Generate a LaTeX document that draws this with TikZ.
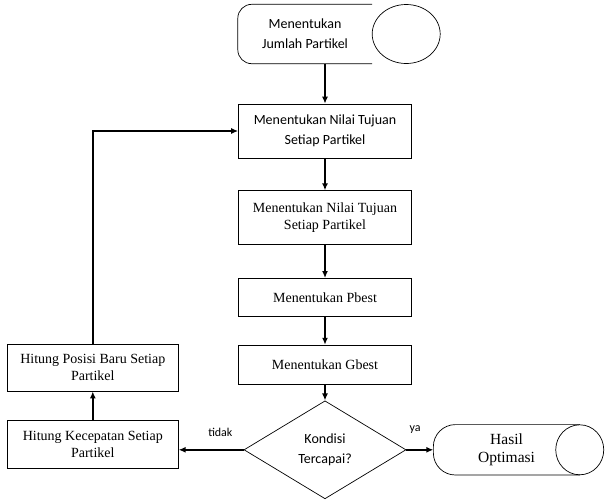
\documentclass[tikz,border=0pt]{standalone}
\usepackage{fontspec}
\setmainfont{Liberation Serif}
\newfontfamily\calibri{Carlito}
\usetikzlibrary{shapes.geometric, positioning}
\usetikzlibrary{arrows.meta}
\tikzset{>={Latex[width=6pt,length=7pt]}}

\begin{document}
\begin{tikzpicture}[x=1pt, y=1pt, box/.style={rectangle, draw=black, line width=0.7pt, minimum width=173pt, minimum height=54pt, inner sep=2pt, align=center}, sbox/.style={box, font=\calibri\fontsize{14}{20}\selectfont}, tbox/.style={box, font=\fontsize{14}{17}\selectfont}, termtext/.style={draw=none, inner sep=0pt, align=center}, decision/.style={diamond, draw=black, line width=0.7pt, minimum width=162pt, minimum height=98pt, aspect=1.65, inner sep=0pt, align=center, font=\calibri\fontsize{14}{20}\selectfont}, lbl/.style={inner sep=0pt, font=\calibri\fontsize{12}{14}\selectfont}, flow/.style={->, line width=1.5pt}]
    \useasboundingbox (0,0) rectangle (608,-499);

    %Nodes
    \node[termtext, minimum width=134pt, minimum height=59pt, font=\calibri\fontsize{14}{20}\selectfont](start) at (305,-34){Menentukan\\Jumlah Partikel};
    \node[sbox](nilai) at (325,-131){Menentukan Nilai Tujuan\\Setiap Partikel};
    \node[tbox](nilai2)[below=32pt of nilai]{Menentukan Nilai Tujuan\\Setiap Partikel};
    \node[tbox, minimum height=38pt](pbest)[below=33pt of nilai2]{Menentukan Pbest};
    \node[tbox, minimum height=39pt](gbest)[below=28pt of pbest]{Menentukan Gbest};
    \node[decision](cond)[below=16pt of gbest]{Kondisi\\Tercapai?};
    \node[tbox, minimum width=171pt, minimum height=48pt](kecepatan)[left=65pt of cond, yshift=5pt]{Hitung Kecepatan Setiap\\Partikel};
    \node[tbox, minimum width=171pt, minimum height=47pt](posisi)[above=29pt of kecepatan]{Hitung Posisi Baru Setiap\\Partikel};
    \node[termtext, minimum width=146pt, minimum height=50pt, font=\fontsize{15.5}{18}\selectfont](hasil)[right=27pt of cond]{Hasil\\Optimasi};
    \node[lbl](tidak)[above left=13pt and 11pt of cond.west]{tidak};
    \node[lbl](ya)[above right=16pt and 3pt of cond.east]{ya};

    %Terminator outlines
    \draw[line width=0.7pt, rounded corners=14pt] (start.north east) -- (start.north west) -- (start.south west) -- (start.south east);
    \draw[line width=0.7pt] ([xshift=34pt]start.east) ellipse [x radius=34pt, y radius=29.5pt];
    \draw[line width=0.7pt, rounded corners=22pt] (hasil.north east) -- (hasil.north west) -- (hasil.south west) -- (hasil.south east);
    \draw[line width=0.7pt] (hasil.east) ellipse [x radius=24pt, y radius=25pt];

    %Lines
    \draw[flow] (nilai.north |- start.south) -- (nilai.north);
    \draw[flow] (nilai.south) -- (nilai2.north);
    \draw[flow] (nilai2.south) -- (pbest.north);
    \draw[flow] (pbest.south) -- (gbest.north);
    \draw[flow] (gbest.south) -- (cond.north);
    \draw[flow] (cond.west) -- (cond.west -| kecepatan.east);
    \draw[flow] (cond.east) -- (cond.east -| hasil.west);
    \draw[flow] (kecepatan.north) -- (posisi.south);
    \draw[flow] (posisi.north) |- (nilai.west);

\end{tikzpicture}
\end{document}
